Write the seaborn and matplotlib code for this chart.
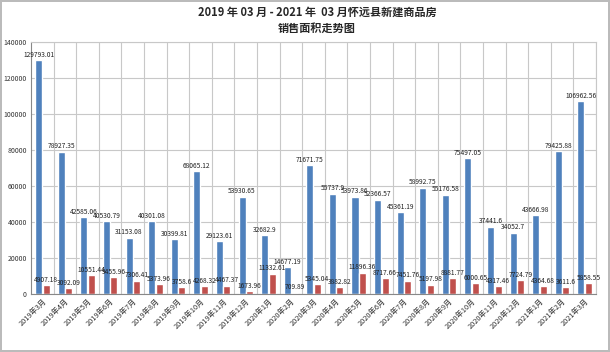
import numpy as np
import pandas as pd
import matplotlib
matplotlib.use("Agg")
import matplotlib.pyplot as plt
import seaborn as sns

MONTHS = [
    "2019年3月", "2019年4月", "2019年5月", "2019年6月", "2019年7月", "2019年8月",
    "2019年9月", "2019年10月", "2019年11月", "2019年12月", "2020年1月", "2020年2月",
    "2020年3月", "2020年4月", "2020年5月", "2020年6月", "2020年7月", "2020年8月",
    "2020年9月", "2020年10月", "2020年11月", "2020年12月", "2021年1月", "2021年2月",
    "2021年3月",
]
AREA_A = [
    129793.01, 78927.35, 42585.06, 40530.79, 31153.08, 40301.08, 30399.81, 68065.12,
    29123.61, 53930.65, 32682.9, 14677.19, 71671.75, 55737.9, 53973.86, 52366.57,
    45361.19, 58992.75, 55176.58, 75497.05, 37441.6, 34052.7, 43666.98, 79425.88,
    106962.56,
]
AREA_B = [
    4907.18, 3092.09, 10551.44, 9455.96, 7306.41, 5373.96, 3758.6, 4268.32,
    4467.37, 1673.96, 11332.61, 709.89, 5345.04, 3882.82, 11896.36, 8717.66,
    7451.76, 5197.98, 8881.77, 6000.65, 4317.46, 7724.79, 4364.68, 3611.6,
    5858.55,
]
SERIES = ["A", "B"]
BLUE = "#4F81BD"
RED = "#C0504D"


def fmt(v):
    return f"{v:.2f}".rstrip("0").rstrip(".")


df = pd.DataFrame({
    "month": MONTHS * 2,
    "area": AREA_A + AREA_B,
    "series": [SERIES[0]] * len(MONTHS) + [SERIES[1]] * len(MONTHS),
})

sns.set_style("white")
plt.rcParams["font.family"] = ["Noto Sans CJK SC", "DejaVu Sans"]

fig = plt.figure(figsize=(6.1, 3.52), dpi=100)
fig.patch.set_edgecolor("#BBBBBB")
fig.patch.set_linewidth(1.5)
ax = fig.add_axes([0.051, 0.165, 0.926, 0.716])

sns.barplot(data=df, x="month", y="area", hue="series", order=MONTHS,
            palette=[BLUE, RED], width=0.66, gap=0.06, ax=ax, legend=False,
            saturation=1, errorbar=None)

for cont in ax.containers:
    ax.bar_label(cont, labels=[fmt(v) for v in cont.datavalues],
                 fontsize=4.8, padding=1, color="#222222")

ax.set_ylim(0, 140000)
ax.set_yticks(np.arange(0, 140001, 20000))
ax.set_xlim(-0.5, len(MONTHS) - 0.5)
ax.set_xticks(np.arange(len(MONTHS)) + 0.5, minor=True)
ax.grid(axis="y", color="#C8C8C8", linewidth=0.8)
ax.grid(axis="x", which="minor", color="#C8C8C8", linewidth=0.8)
ax.set_axisbelow(True)
ax.tick_params(axis="y", labelsize=5, length=0, pad=3, labelcolor="#333333")
ax.tick_params(axis="x", which="both", length=0, pad=2, labelcolor="#333333")
plt.setp(ax.get_xticklabels(), rotation=45, ha="right", rotation_mode="anchor",
         fontsize=5.3)
ax.set_xlabel("")
ax.set_ylabel("")
for s in ["top", "right"]:
    ax.spines[s].set_color("#C8C8C8")
for s in ["left", "bottom"]:
    ax.spines[s].set_color("#888888")
    ax.spines[s].set_linewidth(0.8)

fig.text(0.52, 0.965, "2019 年 03 月 - 2021 年  03 月怀远县新建商品房",
         ha="center", va="center", fontsize=8, fontweight="bold")
fig.text(0.52, 0.92, "销售面积走势图", ha="center", va="center",
         fontsize=8, fontweight="bold")

fig.savefig("out.png", dpi=100, edgecolor=fig.get_edgecolor())
